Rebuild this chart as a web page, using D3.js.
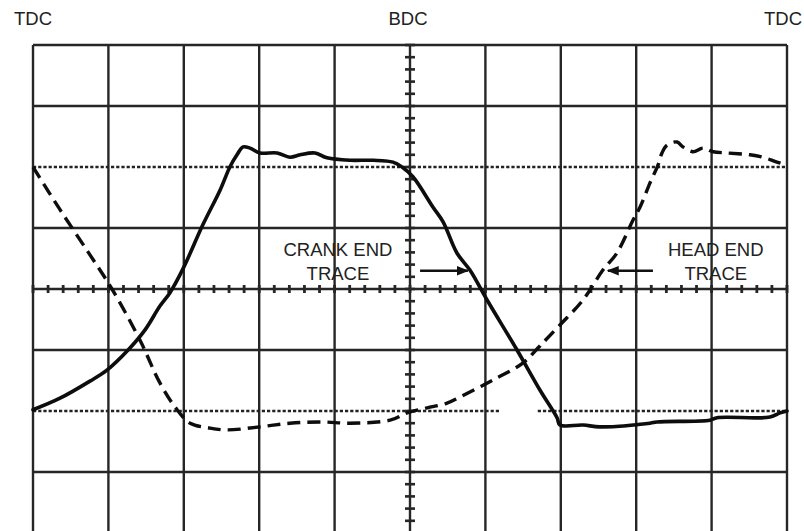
<!DOCTYPE html>
<html><head><meta charset="utf-8">
<script src="https://cdn.jsdelivr.net/npm/d3@7"></script>
<style>
html,body{margin:0;padding:0;background:#fff;}
svg{display:block;}
text{font-family:"Liberation Sans",Arial,Helvetica,sans-serif;fill:#222;}
</style></head>
<body>
<svg id="chart" width="804" height="531"></svg>
<script>
// crank angle (degrees), trace level (divisions from centre)
const positionLabels = [{angle:0,text:"TDC"},{angle:180,text:"BDC"},{angle:360,text:"TDC"}];
const crankAngle = [0,12.9,27.2,35.3,45.4,53.5,60.6,65.4,71.6,81.2,89.3,94.0,97.4,100.3,103.6,108.4,116.5,122.7,127.5,134.6,140.4,151.4,162.4,171.9,176.2,181.4,191.0,195.8,202.4,208.6,216.8,231.1,242.1,250.2,251.6,262.6,270.7,294.6,297.9,323.2,326.6,351.9,356.7,360];
const crankLevel = [-1.98,-1.79,-1.51,-1.33,-1.00,-0.67,-0.28,-0.06,0.33,1.06,1.62,2.00,2.20,2.33,2.31,2.23,2.23,2.16,2.20,2.23,2.15,2.11,2.11,2.08,2.00,1.84,1.34,1.10,0.59,0.31,-0.18,-1.00,-1.66,-2.11,-2.23,-2.23,-2.26,-2.20,-2.18,-2.15,-2.11,-2.10,-2.03,-2.00];
const headAngle = [0,12.9,27.2,37.7,51.1,60.6,68.8,75.0,84.5,92.6,108.4,122.7,138.5,151.4,170.5,178.6,188.2,197.7,203.9,219.7,234.0,242.1,251.6,262.6,272.1,278.8,286.5,289.8,294.6,298.4,300.3,302.7,307.5,310.3,315.1,319.9,324.7,331.4,342.3,348.5,355.2,360];
const headLevel = [2.00,1.30,0.56,0,-0.84,-1.54,-1.98,-2.20,-2.28,-2.31,-2.26,-2.20,-2.18,-2.20,-2.15,-2.03,-1.95,-1.87,-1.77,-1.49,-1.21,-0.93,-0.59,-0.18,0.31,0.59,1.13,1.34,1.74,2.03,2.23,2.36,2.41,2.33,2.25,2.31,2.25,2.23,2.20,2.16,2.08,2.03];
const refLevels = [{level:2,from:0,to:360},{level:-2,from:0,to:223},{level:-2,from:241,to:360}];
const traceLabels = [
  {lines:["CRANK END","TRACE"],angle:145.6,level:[0.54,0.15],arrowFrom:184.8,arrowTo:207.6,arrowLevel:0.30},
  {lines:["HEAD END","TRACE"],angle:326,level:[0.54,0.15],arrowFrom:296,arrowTo:274.5,arrowLevel:0.30}
];

const svg = d3.select("#chart");
const x = d3.scaleLinear().domain([0,360]).range([33,787]);
const y = d3.scaleLinear().domain([-4,4]).range([533,45]);
const gridColor = "#262626";

const defs = svg.append("defs");
defs.append("filter").attr("id","soft").append("feGaussianBlur").attr("stdDeviation",0.45);
defs.append("marker").attr("id","ah").attr("viewBox","0 0 10 10").attr("refX",9).attr("refY",5)
  .attr("markerWidth",5).attr("markerHeight",5).attr("orient","auto")
  .append("path").attr("d","M0,1 L10,5 L0,9 Z").attr("fill","#111");

const g = svg.append("g").attr("filter","url(#soft)");

// vertical grid lines
const vTicks = d3.range(0,361,36);
g.selectAll(".vg").data(vTicks).join("line")
  .attr("x1",d=>x(d)).attr("x2",d=>x(d)).attr("y1",y(4)).attr("y2",y(-4))
  .attr("stroke",gridColor).attr("stroke-width",2.4);
// horizontal grid lines (except reference levels)
const hTicks = d3.range(-4,4.01,1).filter(d=>Math.abs(d)!==2);
g.selectAll(".hg").data(hTicks).join("line")
  .attr("x1",x(0)).attr("x2",x(360)).attr("y1",d=>y(d)).attr("y2",d=>y(d))
  .attr("stroke",gridColor).attr("stroke-width",2.4);
// reference dotted lines
g.selectAll(".ref").data(refLevels).join("line")
  .attr("x1",d=>x(d.from)).attr("x2",d=>x(d.to)).attr("y1",d=>y(d.level)).attr("y2",d=>y(d.level))
  .attr("stroke","#222").attr("stroke-width",2.6).attr("stroke-dasharray","3.2,2");
// minor ticks on centre axes
const minorX = d3.range(0,360.01,7.2);
g.selectAll(".mx").data(minorX).join("line")
  .attr("x1",d=>x(d)).attr("x2",d=>x(d)).attr("y1",y(0)-4).attr("y2",y(0)+4)
  .attr("stroke",gridColor).attr("stroke-width",2.8);
const minorY = d3.range(-4,4.001,0.2);
g.selectAll(".my").data(minorY).join("line")
  .attr("x1",x(180)-5).attr("x2",x(180)+5).attr("y1",d=>y(d)).attr("y2",d=>y(d))
  .attr("stroke",gridColor).attr("stroke-width",2.6);

// traces
const line = d3.line().x(d=>x(d[0])).y(d=>y(d[1])).curve(d3.curveCatmullRom.alpha(0.5));
g.append("path").datum(crankAngle.map((a,i)=>[a,crankLevel[i]]))
  .attr("d",line).attr("fill","none").attr("stroke","#0a0a0a").attr("stroke-width",3.6)
  .attr("stroke-linejoin","round").attr("stroke-linecap","round");
g.append("path").datum(headAngle.map((a,i)=>[a,headLevel[i]]))
  .attr("d",line).attr("fill","none").attr("stroke","#0a0a0a").attr("stroke-width",3.4)
  .attr("stroke-dasharray","13,7");

// label text and arrows
traceLabels.forEach(t=>{
  t.lines.forEach((s,i)=>{
    svg.append("text").attr("x",x(t.angle)).attr("y",y(t.level[i])).attr("text-anchor","middle")
      .attr("font-size",18.5).text(s);
  });
  svg.append("line").attr("x1",x(t.arrowFrom)).attr("x2",x(t.arrowTo))
    .attr("y1",y(t.arrowLevel)).attr("y2",y(t.arrowLevel))
    .attr("stroke","#111").attr("stroke-width",2.4).attr("marker-end","url(#ah)");
});

// position labels
svg.selectAll(".pl").data(positionLabels).join("text")
  .attr("x",d=>d.angle===360?783:(d.angle===0?33:x(d.angle)-2)).attr("y",25)
  .attr("text-anchor","middle").attr("font-size",18.5).text(d=>d.text);
</script>
</body></html>
